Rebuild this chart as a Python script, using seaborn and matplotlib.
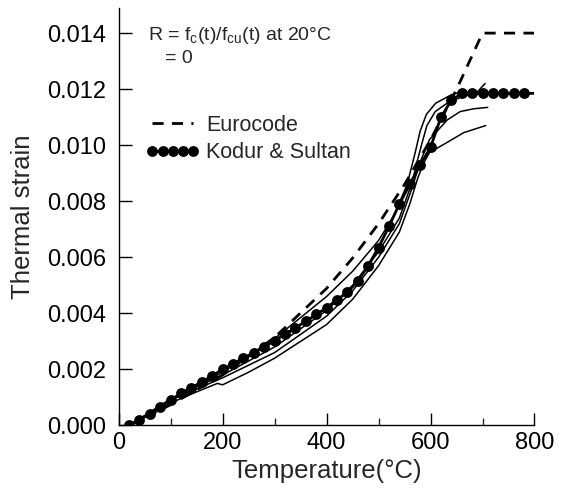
import matplotlib
matplotlib.use("Agg")
import matplotlib.pyplot as plt
import seaborn as sns
import pandas as pd
from matplotlib.lines import Line2D
from matplotlib.ticker import MultipleLocator

# ---- data ----
euro_T = [20, 100, 200, 300, 400, 450, 500, 550, 600, 650, 700, 800]
euro_eps = [0.0, 0.00074, 0.00180, 0.00314, 0.00489, 0.00597, 0.00720, 0.00860,
            0.01019, 0.01199, 0.01400, 0.01400]

kodur_T = [20, 40, 60, 80, 100, 120, 140, 160, 180, 200, 220, 240, 260, 280, 300,
           320, 340, 360, 380, 400, 420, 440, 460, 480, 500, 520, 540, 560, 580,
           600, 620, 640, 660, 680, 700, 720, 740, 760, 780, 800]
kodur_eps = [0.0, 0.0002, 0.0004, 0.00065, 0.0009, 0.00115, 0.00135, 0.00155,
             0.00178, 0.00200, 0.00220, 0.00240, 0.00260, 0.00280, 0.00303,
             0.00325, 0.00348, 0.00372, 0.00396, 0.00420, 0.00448, 0.00475,
             0.00515, 0.00570, 0.00635, 0.00710, 0.00790, 0.00860, 0.00930,
             0.00992, 0.01100, 0.01160, 0.01185, 0.01185, 0.01185, 0.01185,
             0.01185, 0.01185, 0.01185, 0.01185]

test1_T = [20, 100, 200, 300, 400, 450, 500, 530, 555, 570, 580, 592, 610, 640, 660]
test1_eps = [0.0, 0.0009, 0.0019, 0.0031, 0.0046, 0.0055, 0.0066, 0.0075, 0.0086,
             0.0097, 0.0105, 0.0111, 0.0115, 0.0118, 0.0119]

test2_T = [20, 100, 200, 300, 400, 450, 500, 540, 565, 574, 584, 593, 609, 632, 657, 690, 705]
test2_eps = [0.0, 0.00095, 0.0018, 0.0028, 0.0041, 0.0050, 0.0062, 0.0074, 0.0087,
             0.0094, 0.0101, 0.0107, 0.0112, 0.0115, 0.0117, 0.0119, 0.0122]

test3_T = [20, 100, 200, 300, 400, 450, 500, 540, 565, 580, 598, 632, 657, 683, 710]
test3_eps = [0.0, 0.0009, 0.0017, 0.0026, 0.0039, 0.0048, 0.0060, 0.0072, 0.0085,
             0.0094, 0.0102, 0.0109, 0.0112, 0.0113, 0.01135]

test4_T = [20, 100, 150, 190, 200, 250, 300, 350, 400, 450, 500, 540, 560, 575, 585, 598, 632, 664, 706]
test4_eps = [0.0, 0.0008, 0.0012, 0.0015, 0.00145, 0.0019, 0.0024, 0.0030, 0.0036,
             0.0045, 0.0057, 0.0069, 0.0079, 0.0088, 0.0093, 0.00974, 0.0101,
             0.01045, 0.0107]

xticks = [0, 200, 400, 600, 800]
yticks = [0.000, 0.002, 0.004, 0.006, 0.008, 0.010, 0.012, 0.014]

# ---- style ----
sns.set_style("ticks")
plt.rcParams['font.family'] = ['Liberation Sans', 'DejaVu Sans']
plt.rcParams['mathtext.fontset'] = 'custom'
plt.rcParams['mathtext.rm'] = 'Liberation Sans'
plt.rcParams['mathtext.it'] = 'Liberation Sans:italic'

fig = plt.figure(figsize=(5.65, 4.93), dpi=100)
ax = fig.add_axes([0.210, 0.137, 0.736, 0.847])

for T, e in [(test1_T, test1_eps), (test2_T, test2_eps),
             (test3_T, test3_eps), (test4_T, test4_eps)]:
    sns.lineplot(x=T, y=e, ax=ax, color='black', lw=1.1, sort=False,
                 estimator=None, legend=False)

sns.lineplot(x=euro_T, y=euro_eps, ax=ax, color='black', lw=2.0,
             linestyle=(0, (4, 3)), sort=False, estimator=None, legend=False)

kdf = pd.DataFrame({'T': kodur_T, 'eps': kodur_eps})
sns.lineplot(data=kdf, x='T', y='eps', ax=ax, color='black', lw=2.0,
             marker='o', markersize=7.8, markeredgewidth=0,
             markevery=list(range(len(kodur_T) - 1)),
             sort=False, estimator=None, legend=False)

ax.set_xlim(0, 800)
ax.set_ylim(0, 0.0149)
ax.set_xticks(xticks)
ax.set_yticks(yticks)
ax.set_yticklabels([f"{v:.3f}" for v in yticks])
ax.xaxis.set_minor_locator(MultipleLocator(100))
ax.tick_params(axis='both', which='major', direction='in', length=9, width=1.0,
               labelsize=17, colors='black')
ax.tick_params(axis='x', which='minor', direction='in', length=5, width=1.0)
ax.tick_params(axis='x', pad=5)
ax.tick_params(axis='y', pad=9)
ax.set_xlabel("Temperature(°C)", fontsize=18.5, labelpad=3)
ax.set_ylabel("Thermal strain", fontsize=18.5, labelpad=9)
sns.despine(ax=ax)
for s in ['left', 'bottom']:
    ax.spines[s].set_linewidth(1.0)
    ax.spines[s].set_color('black')

ax.text(56, 0.0139, r"R = f$_\mathrm{c}$(t)/f$_\mathrm{cu}$(t) at 20°C",
        fontsize=14, va='center', ha='left')
ax.text(89, 0.01308, "= 0", fontsize=14, va='center', ha='left')

handles = [
    Line2D([], [], color='black', lw=2.0, linestyle=(0, (4, 3))),
    Line2D([], [], color='black', lw=2.0, marker='o', markersize=7.8,
           markeredgewidth=0),
]
leg = ax.legend(handles, ["Eurocode", "Kodur & Sultan"], loc='upper left',
                bbox_to_anchor=(0.045, 0.765), frameon=False, fontsize=15.5,
                handlelength=2.5, handletextpad=0.3, labelspacing=0.3,
                numpoints=5, borderaxespad=0)

fig.savefig("out.png", dpi=100)
